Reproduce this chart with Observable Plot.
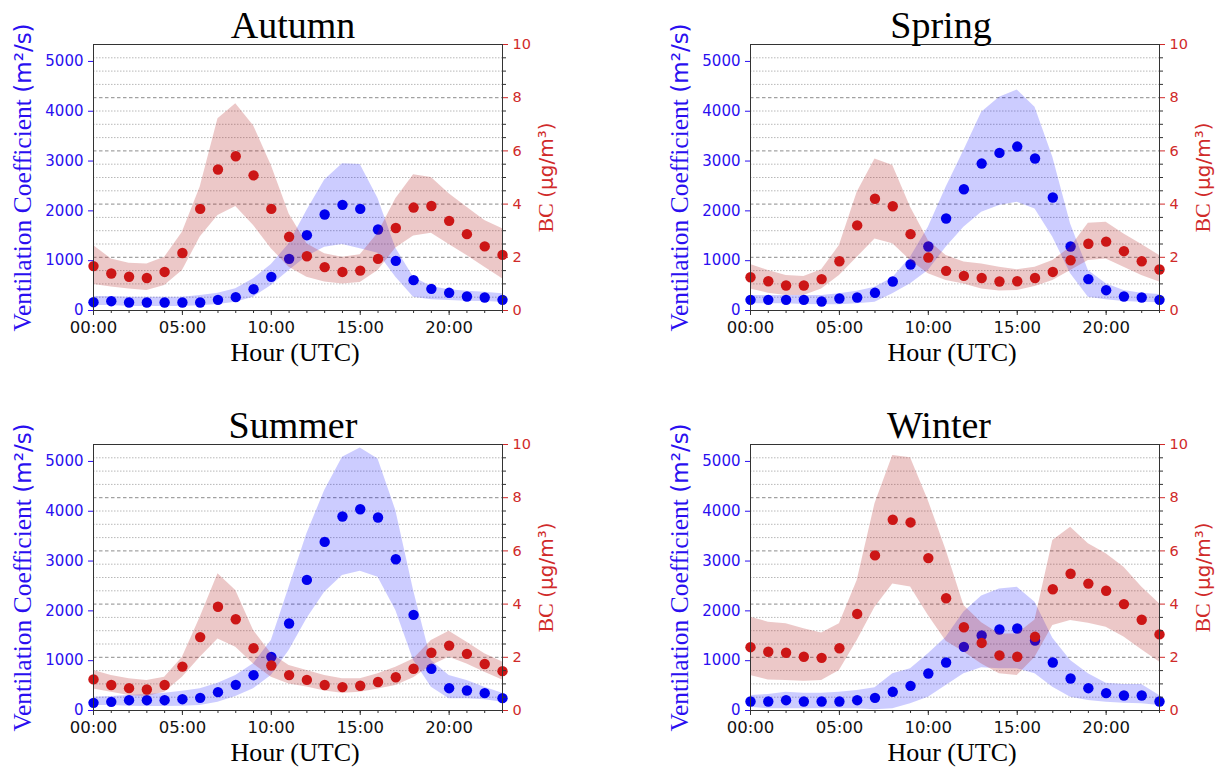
<!DOCTYPE html>
<html><head><meta charset="utf-8">
<script src="https://cdn.jsdelivr.net/npm/d3@7"></script>
<script src="https://cdn.jsdelivr.net/npm/@observablehq/plot@0.6"></script>
<style>
body{margin:0;background:#fff;}
#wrap{position:relative;width:1217px;height:768px;overflow:hidden;background:#fff;}
.panel{position:absolute;}
</style></head><body><div id="wrap"></div>
<script>
// ---- categories & tick labels ----
const hours = [0,1,2,3,4,5,6,7,8,9,10,11,12,13,14,15,16,17,18,19,20,21,22,23];
const xTicks = [0,5,10,15,20];
const xTickLabels = ["00:00","05:00","10:00","15:00","20:00"];
const vcTicks = [0,1000,2000,3000,4000,5000];
const bcTicks = [0,2,4,6,8,10];
const bcMajorGrid = [2,4,6,8];
const bcMinor = [0.5,1,1.5,2.5,3,3.5,4.5,5,5.5,6.5,7,7.5,8.5,9,9.5];
const vcMax = 5340;
const bcMax = 10;
const xLabel = "Hour (UTC)";
const vcLabelMain = "Ventilation Coefficient ";
const vcLabelUnit = "(m²/s)";
const bcLabelMain = "BC ";
const bcLabelUnit = "(µg/m³)";

// ---- Autumn ----
const autumnVC     = [167,187,160,160,160,160,160,214,268,428,676,1037,1512,1927,2121,2040,1626,997,609,435,355,281,261,214];
const autumnVCHigh = [281,281,268,268,268,268,301,348,435,636,923,1338,2007,2622,2944,2930,2250,1250,669,482,415,388,368,335];
const autumnVCLow  = [100,100,80,80,80,80,94,120,167,268,502,803,1084,1271,1325,1238,1150,669,268,214,200,187,180,167];
const autumnBC     = [1.67,1.39,1.27,1.22,1.45,2.16,3.82,5.30,5.80,5.08,3.82,2.77,2.04,1.63,1.45,1.50,1.94,3.10,3.87,3.93,3.37,2.87,2.41,2.09];
const autumnBCHigh = [2.44,1.94,1.78,1.75,2.0,2.94,4.64,7.21,7.77,6.95,5.45,3.63,2.51,2.13,2.0,2.1,2.9,4.2,5.1,5.0,4.39,3.88,3.38,3.07];
const autumnBCLow  = [0.98,0.88,0.81,0.75,0.94,1.50,2.76,3.57,3.91,3.20,2.32,1.63,1.25,1.07,1.0,1.05,1.5,2.35,2.8,2.9,2.48,2.07,1.63,1.19];

// ---- Spring ----
const springVC     = [214,214,214,214,181,241,261,355,582,923,1284,1846,2435,2950,3164,3291,3051,2268,1284,629,408,281,261,214];
const springVCHigh = [301,301,301,301,301,335,388,468,656,1070,1673,2475,3211,3981,4282,4429,4081,3077,1739,803,535,401,348,321];
const springVCLow  = [134,134,134,120,114,114,134,167,335,535,803,1271,1673,1974,2107,2174,2040,1472,736,268,214,181,167,154];
const springBC     = [1.25,1.10,0.94,0.94,1.18,1.85,3.20,4.20,3.92,2.87,1.99,1.49,1.30,1.22,1.09,1.10,1.22,1.45,1.89,2.51,2.59,2.23,1.85,1.54];
const springBCHigh = [1.73,1.50,1.32,1.28,1.53,2.44,4.45,5.70,5.45,3.88,2.63,2.07,1.82,1.75,1.63,1.53,1.63,1.88,2.38,3.28,3.32,2.88,2.48,2.07];
const springBCLow  = [0.81,0.65,0.56,0.56,0.81,1.32,2.0,2.69,2.51,1.88,1.38,1.13,1.0,0.81,0.73,0.75,0.90,1.13,1.50,1.88,1.94,1.63,1.32,1.07];

// ---- Summer ----
const summerVC     = [154,174,207,207,207,227,254,368,515,709,1077,1746,2622,3385,3894,4041,3874,3037,1920,837,448,401,348,248];
const summerVCHigh = [268,281,301,321,348,388,435,549,702,937,1405,2475,3546,4415,5084,5272,5051,4014,2408,1004,702,602,468,348];
const summerVCLow  = [100,100,87,80,80,87,100,167,281,435,702,1204,1840,2375,2710,2796,2676,2007,1004,468,234,234,214,167];
const summerBC     = [1.17,0.96,0.84,0.79,0.96,1.65,2.76,3.90,3.43,2.34,1.69,1.33,1.15,0.96,0.88,0.93,1.07,1.25,1.57,2.17,2.44,2.13,1.75,1.48];
const summerBCHigh = [1.50,1.32,1.19,1.13,1.25,2.0,3.51,5.14,4.51,3.01,2.13,1.69,1.50,1.32,1.19,1.19,1.38,1.63,1.94,2.63,2.98,2.57,2.13,1.82];
const summerBCLow  = [0.81,0.69,0.56,0.53,0.69,1.25,2.0,2.69,2.38,1.75,1.25,1.0,0.88,0.73,0.65,0.69,0.81,0.94,1.23,1.69,2.0,1.75,1.44,1.15];

// ---- Winter ----
const winterVC     = [181,181,207,181,181,181,207,254,375,495,743,963,1278,1505,1626,1646,1405,963,642,448,348,301,301,181];
const winterVCHigh = [301,321,368,348,348,368,401,455,736,836,1137,1472,1975,2300,2440,2475,2175,1450,1004,736,549,522,522,301];
const winterVCLow  = [67,33,33,33,33,33,33,13,33,134,268,500,736,860,837,837,736,468,268,201,167,147,134,100];
const winterBC     = [2.38,2.21,2.17,2.02,1.98,2.34,3.63,5.83,7.17,7.07,5.73,4.22,3.13,2.54,2.07,2.02,2.77,4.56,5.14,4.77,4.50,4.00,3.41,2.86];
const winterBCHigh = [3.51,3.32,3.26,3.07,2.91,3.26,4.89,7.77,9.59,9.50,7.89,6.02,3.95,3.3,2.88,2.88,3.4,6.39,6.89,6.27,5.89,5.39,4.64,4.01];
const winterBCLow  = [1.32,1.15,1.13,1.10,1.13,1.50,2.63,3.88,4.76,4.64,3.57,2.6,2.2,1.75,1.38,1.32,2.0,3.2,3.38,3.28,3.13,2.76,2.28,1.82];

const ratio = vcMax / bcMax; // maps BC values onto the shared y scale (right axis)

const BLUE = "#0000ee", BLUE_TXT = "#2a0ff0", RED = "#cc1616", RED_TXT = "#d02a2a";

function drawPanel(name, vc, vcLo, vcHi, bc, bcLo, bcHi, left, top, titleDx) {
  const rows = hours.map((h, i) => ({
    h, vc: vc[i], vcLo: vcLo[i], vcHi: vcHi[i],
    bc: bc[i] * ratio, bcLo: bcLo[i] * ratio, bcHi: bcHi[i] * ratio
  }));
  const svg = Plot.plot({
    width: 560, height: 365,
    marginTop: 44, marginBottom: 55, marginLeft: 93, marginRight: 58,
    style: {fontFamily: "DejaVu Sans", fontSize: "15px", background: "transparent", overflow: "visible"},
    x: {domain: [0, 23], axis: null},
    y: {domain: [0, vcMax], axis: null},
    marks: [
      Plot.ruleY(bcMinor.map(v => v * ratio), {stroke: "#b8b8b8", strokeDasharray: "1.5,1.5"}),
      Plot.ruleY(bcMajorGrid.map(v => v * ratio), {stroke: "#8c8c8c", strokeDasharray: "3.5,2.5"}),
      Plot.areaY(rows, {x: "h", y1: "vcLo", y2: "vcHi", fill: "#0000ff", fillOpacity: 0.2}),
      Plot.dot(rows, {x: "h", y: "vc", r: 5.2, fill: BLUE}),
      Plot.areaY(rows, {x: "h", y1: "bcLo", y2: "bcHi", fill: "#b22222", fillOpacity: 0.25}),
      Plot.dot(rows, {x: "h", y: "bc", r: 5.2, fill: RED}),
      Plot.frame({stroke: "#333"}),
      Plot.axisX({ticks: hours, tickSize: 3, tickFormat: () => "", stroke: "#333", label: null}),
      Plot.axisX({ticks: xTicks, tickSize: 5, tickPadding: 6, tickFormat: d => xTickLabels[xTicks.indexOf(d)],
        fontSize: 16.5, fill: "#111", stroke: "#333", label: null}),
      Plot.axisY({anchor: "left", ticks: vcTicks, tickSize: 5, tickPadding: 5, tickFormat: d => String(d),
        fill: BLUE_TXT, stroke: BLUE_TXT, fontSize: 15, label: null}),
      Plot.axisY({anchor: "right", ticks: bcMinor.map(v => v * ratio), tickSize: 3, tickFormat: () => "", stroke: "#333", label: null}),
      Plot.axisY({anchor: "right", ticks: bcTicks.map(v => v * ratio), tickSize: 5, tickPadding: 5,
        tickFormat: d => String(Math.round(d / ratio)), fill: RED_TXT, stroke: RED_TXT, fontSize: 14.5, label: null}),
      Plot.text([name], {text: d => d, frameAnchor: "top", lineAnchor: "bottom", dy: -7, dx: titleDx,
        fontFamily: "Liberation Serif", fontSize: 38, fill: "#000"}),
      Plot.text([xLabel], {text: d => d, frameAnchor: "bottom", lineAnchor: "bottom", dy: 50, dx: -3,
        fontFamily: "Liberation Serif", fontSize: 26, fill: "#000"}),
      Plot.text([vcLabelMain + vcLabelUnit], {text: d => d, frameAnchor: "left", textAnchor: "middle", rotate: -90, dx: -71,
        lineAnchor: "middle", fill: BLUE_TXT, fontSize: 25.5}),
      Plot.text([bcLabelMain + bcLabelUnit], {text: d => d, frameAnchor: "right", textAnchor: "middle", rotate: -90, dx: 43,
        lineAnchor: "middle", fill: RED_TXT, fontSize: 22})
    ]
  });
  // mixed serif / sans label fonts
  d3.select(svg).selectAll("text").each(function() {
    const t = d3.select(this);
    const s = this.textContent;
    if (s === vcLabelMain + vcLabelUnit) {
      t.text(null);
      t.append("tspan").attr("font-family", "Liberation Serif").text(vcLabelMain);
      t.append("tspan").attr("font-family", "DejaVu Sans").attr("font-size", 23).text(vcLabelUnit);
    } else if (s === bcLabelMain + bcLabelUnit) {
      t.text(null);
      t.append("tspan").attr("font-family", "Liberation Serif").text(bcLabelMain);
      t.append("tspan").attr("font-family", "DejaVu Sans").attr("font-size", 20).text(bcLabelUnit);
    }
  });
  const div = document.createElement("div");
  div.className = "panel";
  div.style.left = left + "px";
  div.style.top = top + "px";
  div.appendChild(svg);
  document.getElementById("wrap").appendChild(div);
}

drawPanel("Autumn", autumnVC, autumnVCLow, autumnVCHigh, autumnBC, autumnBCLow, autumnBCHigh, 0, 0, -5);
drawPanel("Spring", springVC, springVCLow, springVCHigh, springBC, springBCLow, springBCHigh, 657, 0, -14);
drawPanel("Summer", summerVC, summerVCLow, summerVCHigh, summerBC, summerBCLow, summerBCHigh, 0, 400, -5);
drawPanel("Winter", winterVC, winterVCLow, winterVCHigh, winterBC, winterBCLow, winterBCHigh, 657, 400, -16);
</script></body></html>
